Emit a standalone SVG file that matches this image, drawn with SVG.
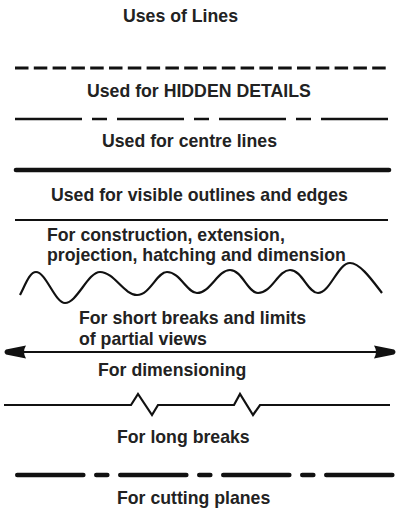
<svg xmlns="http://www.w3.org/2000/svg" width="400" height="520" viewBox="0 0 400 520">
<style>
text{font-family:"Liberation Sans",Arial,sans-serif;font-weight:bold;font-size:17.7px;fill:#222}
.ln{fill:none;stroke:#111}
</style>
<defs>
<marker id="ah" viewBox="0 0 23 14" refX="21" refY="7" markerWidth="23" markerHeight="14" markerUnits="userSpaceOnUse" orient="auto-start-reverse">
<path d="M0,0.5 Q4,7 0,13.5 L20,9.5 Q23,7 20,4.5 Z" fill="#111"/>
</marker>
</defs>
<rect width="400" height="520" fill="#fff"/>
<text id="title" x="123" y="22">Uses of Lines</text>
<g id="hidden">
<line class="ln" x1="15" y1="68" x2="388" y2="68" stroke-width="3.2" stroke-dasharray="13.5 5.3"/>
<text x="87" y="97">Used for HIDDEN DETAILS</text>
</g>
<g id="centre">
<line class="ln" x1="15" y1="119" x2="388" y2="119" stroke-width="2.6" stroke-dasharray="67 10 15 10"/>
<text x="102" y="147">Used for centre lines</text>
</g>
<g id="visible">
<line class="ln" x1="16" y1="170" x2="389" y2="170" stroke-width="4.6" stroke-linecap="round"/>
<text x="51" y="201">Used for visible outlines and edges</text>
</g>
<g id="construction">
<line class="ln" x1="15" y1="220" x2="388" y2="220" stroke-width="1.8"/>
<text x="47" y="241">For construction, extension,</text>
<text x="47" y="261">projection, hatching and dimension</text>
</g>
<g id="shortbreak">
<path class="ln" stroke-width="2.2" d="M20,295 C26,283 30,272 36,272 C46,272 55,303 65,303 C77,303 88,272 100,272 C114,272 124,295 137,295 C150,295 157,272 167,272 C180,272 187,293 197,293 C210,293 218,270 230,270 C242,270 248,293 258,293 C272,293 278,270 290,270 C302,270 308,293 318,293 C330,293 338,263 350,263 C360,263 372,280 382,293"/>
<text x="79" y="324">For short breaks and limits</text>
<text x="79" y="345">of partial views</text>
</g>
<g id="dimension">
<line class="ln" x1="5" y1="352" x2="395" y2="352" stroke-width="2" marker-start="url(#ah)" marker-end="url(#ah)"/>
<text x="98" y="376">For dimensioning</text>
</g>
<g id="longbreak">
<polyline class="ln" stroke-width="2.2" stroke-linejoin="miter" points="4,405 131,405 138,394 152,415 158,405 234,405 240,394 253,415 260,405 390,405"/>
<text x="117" y="443">For long breaks</text>
</g>
<g id="cutting">
<line class="ln" x1="17.3" y1="475" x2="400" y2="475" stroke-width="4.6" stroke-linecap="round" stroke-dasharray="66 13 11 13"/>
<text x="117" y="504">For cutting planes</text>
</g>
</svg>
